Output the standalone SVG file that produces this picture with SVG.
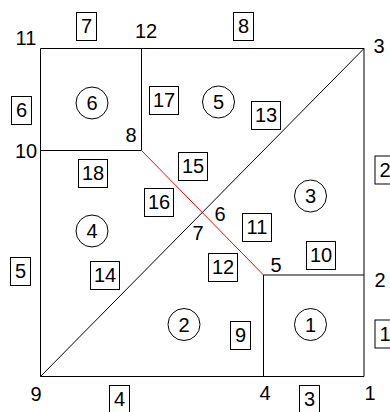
<svg xmlns="http://www.w3.org/2000/svg" width="390" height="412" viewBox="0 0 390 412">
<style>
text{font-family:"Liberation Sans",Arial,sans-serif;font-size:20px;fill:#000;text-anchor:middle}
.e{stroke:#000;stroke-width:1;fill:none}
.r{stroke:#f00;stroke-width:1;fill:none}
.b{stroke:#000;stroke-width:1;fill:#fff}
.c{stroke:#000;stroke-width:1;fill:none}
</style>
<rect width="390" height="412" fill="#fff"/>
<g id="connectors">
<line class="e" x1="40.5" y1="48.5" x2="364" y2="48.5"/>
<line class="e" x1="40.5" y1="48.5" x2="40.5" y2="376.5"/>
<line class="e" x1="40.5" y1="376.5" x2="364" y2="376.5"/>
<line class="e" x1="364" y1="48.5" x2="364" y2="376.5"/>
<line class="e" x1="141.5" y1="48.5" x2="141.5" y2="150.5"/>
<line class="e" x1="40.5" y1="150.5" x2="141.5" y2="150.5"/>
<line class="e" x1="263.5" y1="275" x2="364" y2="275"/>
<line class="e" x1="263.5" y1="275" x2="263.5" y2="376.5"/>
<line class="e" x1="40.5" y1="376.5" x2="364" y2="48.5"/>
<line class="r" x1="141.5" y1="150.5" x2="263.5" y2="275"/>
</g>
<g id="nodes">
<g id="n1"><text x="370" y="400">1</text></g>
<g id="n2"><text x="380" y="287">2</text></g>
<g id="n3"><text x="379" y="53">3</text></g>
<g id="n4"><text x="265" y="400">4</text></g>
<g id="n5"><text x="276" y="272">5</text></g>
<g id="n6"><text x="220" y="221">6</text></g>
<g id="n7"><text x="198" y="240">7</text></g>
<g id="n8"><text x="131" y="142">8</text></g>
<g id="n9"><text x="36" y="401">9</text></g>
<g id="n10"><text x="26" y="158">10</text></g>
<g id="n11"><text x="26" y="45">11</text></g>
<g id="n12"><text x="146" y="38">12</text></g>
</g>
<g id="edge-labels">
<g id="e1"><rect class="b" x="375" y="320" width="20" height="28"/><text x="385" y="341">1</text></g>
<g id="e2"><rect class="b" x="375" y="156" width="20" height="28"/><text x="385" y="177">2</text></g>
<g id="e3"><rect class="b" x="299.5" y="385.5" width="20" height="28"/><text x="309.5" y="406">3</text></g>
<g id="e4"><rect class="b" x="109.5" y="385.5" width="20" height="28"/><text x="119.5" y="406">4</text></g>
<g id="e5"><rect class="b" x="10.5" y="257.5" width="20" height="28"/><text x="20.5" y="278">5</text></g>
<g id="e6"><rect class="b" x="11.5" y="96.5" width="20" height="28"/><text x="21.5" y="117">6</text></g>
<g id="e7"><rect class="b" x="76.5" y="12.5" width="20" height="28"/><text x="86.5" y="33">7</text></g>
<g id="e8"><rect class="b" x="233.5" y="12.5" width="20" height="28"/><text x="243.5" y="33">8</text></g>
<g id="e9"><rect class="b" x="230.5" y="321.5" width="20" height="28"/><text x="240.5" y="342">9</text></g>
<g id="e10"><rect class="b" x="306.5" y="241.5" width="29" height="28"/><text x="321" y="262">10</text></g>
<g id="e11"><rect class="b" x="242.5" y="213.5" width="29" height="28"/><text x="257" y="234">11</text></g>
<g id="e12"><rect class="b" x="208.5" y="253.5" width="29" height="28"/><text x="223" y="274">12</text></g>
<g id="e13"><rect class="b" x="251.5" y="101.5" width="29" height="28"/><text x="266" y="122">13</text></g>
<g id="e14"><rect class="b" x="90.5" y="261.5" width="29" height="28"/><text x="105" y="282">14</text></g>
<g id="e15"><rect class="b" x="178.5" y="152.5" width="29" height="28"/><text x="193" y="173">15</text></g>
<g id="e16"><rect class="b" x="144.5" y="188.5" width="29" height="28"/><text x="159" y="209">16</text></g>
<g id="e17"><rect class="b" x="149.5" y="86.5" width="29" height="28"/><text x="164" y="107">17</text></g>
<g id="e18"><rect class="b" x="78.5" y="159.5" width="29" height="28"/><text x="93" y="180">18</text></g>
</g>
<g id="faces">
<g id="f1"><circle class="c" cx="310.5" cy="324.5" r="16"/><text x="310.5" y="331.5">1</text></g>
<g id="f2"><circle class="c" cx="184" cy="324.5" r="16"/><text x="184" y="331.5">2</text></g>
<g id="f3"><circle class="c" cx="310.5" cy="196" r="16"/><text x="310.5" y="203">3</text></g>
<g id="f4"><circle class="c" cx="92" cy="231" r="16"/><text x="92" y="238">4</text></g>
<g id="f5"><circle class="c" cx="218.5" cy="102" r="16"/><text x="218.5" y="109">5</text></g>
<g id="f6"><circle class="c" cx="92" cy="103" r="16"/><text x="92" y="110">6</text></g>
</g>
</svg>
